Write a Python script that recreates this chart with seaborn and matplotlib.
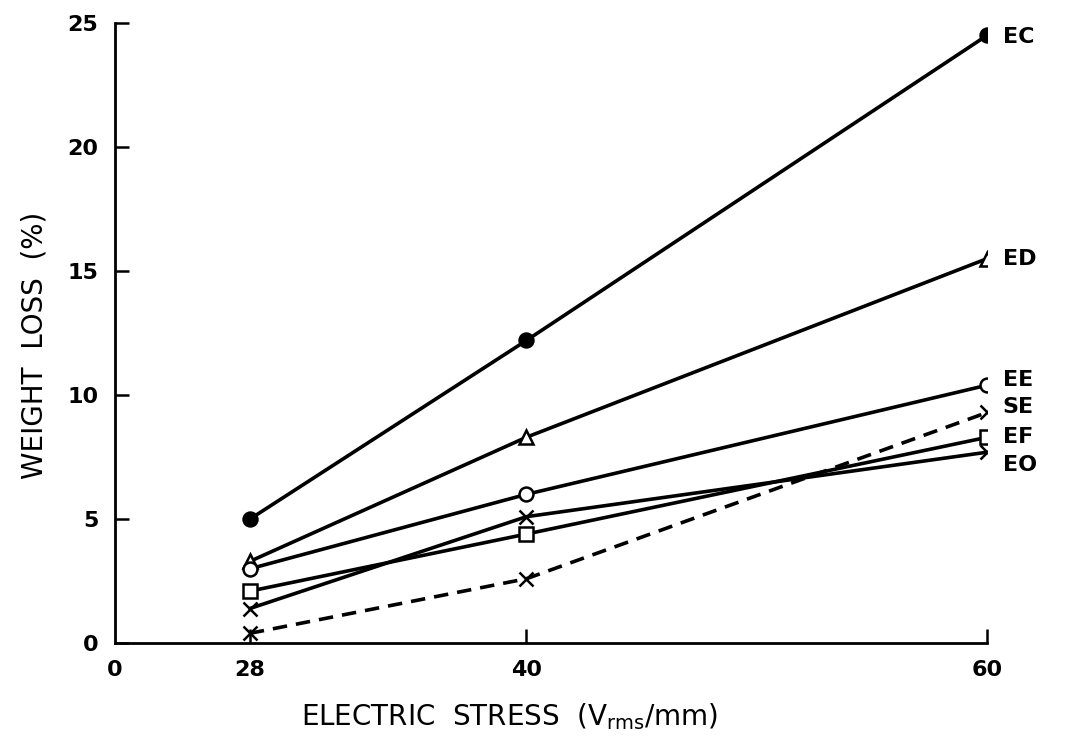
import numpy as np
import pandas as pd
import matplotlib
matplotlib.use("Agg")
import matplotlib.pyplot as plt
import seaborn as sns

sns.set_theme(style="ticks")
plt.rcParams['font.family'] = ['DejaVu Sans']

# ---- data ----
stress = [28, 40, 60]
EC = [5.0, 12.2, 24.5]
ED = [3.3, 8.3, 15.5]
EE = [3.0, 6.0, 10.4]
SE = [0.4, 2.6, 9.3]
EF = [2.1, 4.4, 8.3]
EO = [1.4, 5.1, 7.7]
series_names = ["EC", "ED", "EE", "SE", "EF", "EO"]
series_vals = [EC, ED, EE, SE, EF, EO]
xticks = [0, 28, 40, 60]
yticks = [0, 5, 10, 15, 20, 25]

styles = {
    "EC": dict(marker="o", mfc="black", ls="-", dy=-1),
    "ED": dict(marker="^", mfc="white", ls="-", dy=0),
    "EE": dict(marker="o", mfc="white", ls="-", dy=4),
    "SE": dict(marker="x", mfc="black", ls="--", dy=4),
    "EF": dict(marker="s", mfc="white", ls="-", dy=0),
    "EO": dict(marker="x", mfc="black", ls="-", dy=-9),
}

# broken-like x scale: 0..28 compressed, linear from 28 on
K = 5.85 / 28.0
def fwd(x):
    x = np.asarray(x, dtype=float)
    return np.where(x < 28, x * K, 28 * K + (x - 28))
def inv(u):
    u = np.asarray(u, dtype=float)
    return np.where(u < 28 * K, u / K, u - 28 * K + 28)

fig = plt.figure(figsize=(10.65, 7.36), dpi=100)
ax = fig.add_axes([0.108, 0.126, 0.819, 0.843])
ax.set_xscale("function", functions=(fwd, inv))

for name, vals in zip(series_names, series_vals):
    df = pd.DataFrame({"x": stress, "y": vals})
    st = styles[name]
    sns.lineplot(data=df, x="x", y="y", ax=ax, color="black", lw=2.6,
                 linestyle=st["ls"], marker=st["marker"], markersize=10,
                 markerfacecolor=st["mfc"], markeredgecolor="black",
                 markeredgewidth=1.8)
    if st["ls"] == "--":
        ax.lines[-1].set_dashes((4, 2.5))
    ax.annotate(name, xy=(60, vals[-1]), xytext=(11, st["dy"]), textcoords="offset points",
                va="center", ha="left", fontsize=16, fontweight="bold", color="black")

ax.set_xlim(0, 60)
ax.set_ylim(0, 25)
ax.set_xticks(xticks)
ax.set_xticklabels([str(t) for t in xticks])
ax.set_yticks(yticks)
ax.tick_params(axis="both", direction="in", length=10, width=1.8, labelsize=16,
               pad=12, colors="black")
for lab in ax.get_xticklabels() + ax.get_yticklabels():
    lab.set_fontweight("bold")
ax.xaxis.get_major_ticks()[0].tick1line.set_visible(False)
for s in ["top", "right"]:
    ax.spines[s].set_visible(False)
for s in ["left", "bottom"]:
    ax.spines[s].set_linewidth(2.0)
    ax.spines[s].set_color("black")

ax.set_xlabel(r"ELECTRIC  STRESS  (V$_{\rm rms}$/mm)", fontsize=20, color="black")
ax.set_ylabel("WEIGHT  LOSS  (%)", fontsize=20, color="black")
ax.xaxis.set_label_coords(0.453, -0.118)
ax.yaxis.set_label_coords(-0.092, 0.48)
ax.xaxis.label.set_va("center")
ax.yaxis.label.set_va("center")

fig.savefig("out.png", dpi=100, facecolor="white")
